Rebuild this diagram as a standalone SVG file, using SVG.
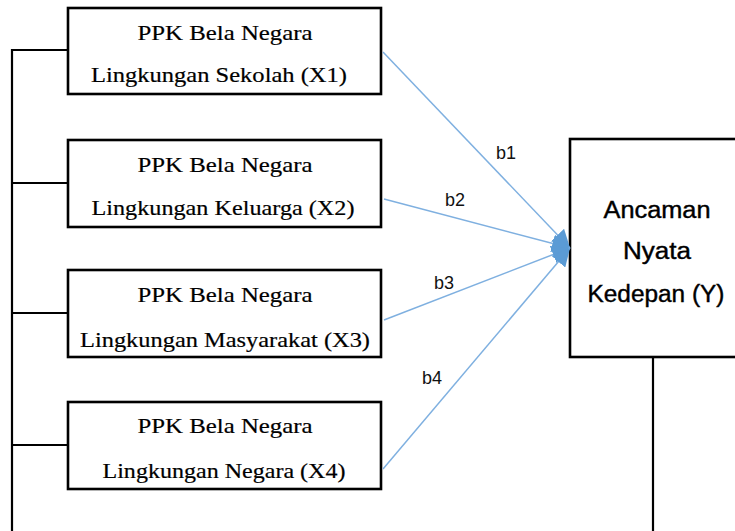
<svg xmlns="http://www.w3.org/2000/svg" width="735" height="531" viewBox="0 0 735 531">
<style>
.box{fill:#fff;stroke:#000;stroke-width:2.6}
.ln{fill:none;stroke:#000;stroke-width:2.2}
.arr{fill:none;stroke:#7fb0e0;stroke-width:1.5}
.t{font-family:"Liberation Serif","Times New Roman",serif;font-size:22px;fill:#000;text-anchor:middle;stroke:#000;stroke-width:0.2}
.y{font-family:"Liberation Sans",Arial,sans-serif;font-size:23px;fill:#000;text-anchor:middle;stroke:#000;stroke-width:0.4}
.lb{font-family:"Liberation Sans",Arial,sans-serif;font-size:18px;fill:#111;text-anchor:middle}
</style>
<defs>
<marker id="ah" viewBox="0 0 10 10" refX="10" refY="5" markerWidth="18" markerHeight="18" markerUnits="userSpaceOnUse" orient="auto">
<path d="M0,0 L10,5 L0,10 z" fill="#5b9bd5"/>
</marker>
</defs>
<g id="x1">
<rect class="box" x="68" y="8" width="313" height="86"/>
<text class="t" x="225" y="40" textLength="175" lengthAdjust="spacingAndGlyphs">PPK Bela Negara</text>
<text class="t" x="219" y="82" textLength="256" lengthAdjust="spacingAndGlyphs">Lingkungan Sekolah (X1)</text>
</g>
<g id="x2">
<rect class="box" x="68" y="140" width="313" height="87"/>
<text class="t" x="225" y="172" textLength="175" lengthAdjust="spacingAndGlyphs">PPK Bela Negara</text>
<text class="t" x="223" y="215" textLength="263" lengthAdjust="spacingAndGlyphs">Lingkungan Keluarga  (X2)</text>
</g>
<g id="x3">
<rect class="box" x="68" y="270" width="313" height="87"/>
<text class="t" x="225" y="302" textLength="175" lengthAdjust="spacingAndGlyphs">PPK Bela Negara</text>
<text class="t" x="225" y="347" textLength="290" lengthAdjust="spacingAndGlyphs">Lingkungan Masyarakat (X3)</text>
</g>
<g id="x4">
<rect class="box" x="68" y="402" width="313" height="87"/>
<text class="t" x="225" y="433" textLength="175" lengthAdjust="spacingAndGlyphs">PPK Bela Negara</text>
<text class="t" x="224" y="478" textLength="243" lengthAdjust="spacingAndGlyphs">Lingkungan Negara (X4)</text>
</g>
<g id="y">
<rect class="box" x="570" y="139" width="180" height="218"/>
<text class="y" x="657" y="218" textLength="107" lengthAdjust="spacingAndGlyphs">Ancaman</text>
<text class="y" x="657" y="259" textLength="68" lengthAdjust="spacingAndGlyphs">Nyata</text>
<text class="y" x="656" y="302" textLength="137" lengthAdjust="spacingAndGlyphs">Kedepan (Y)</text>
</g>
<g id="connectors">
<path class="ln" d="M12,531 V50 H68 M12,183 H68 M12,313 H68 M12,445 H68"/>
<path class="ln" d="M653,357 V531"/>
<line class="arr" x1="383" y1="52" x2="570" y2="248" marker-end="url(#ah)"/>
<line class="arr" x1="384" y1="199" x2="570" y2="248" marker-end="url(#ah)"/>
<line class="arr" x1="384" y1="320" x2="570" y2="248" marker-end="url(#ah)"/>
<line class="arr" x1="383" y1="469" x2="570" y2="248" marker-end="url(#ah)"/>
<text class="lb" x="506" y="159">b1</text>
<text class="lb" x="455" y="206">b2</text>
<text class="lb" x="444" y="289">b3</text>
<text class="lb" x="432" y="384">b4</text>
</g>
</svg>
